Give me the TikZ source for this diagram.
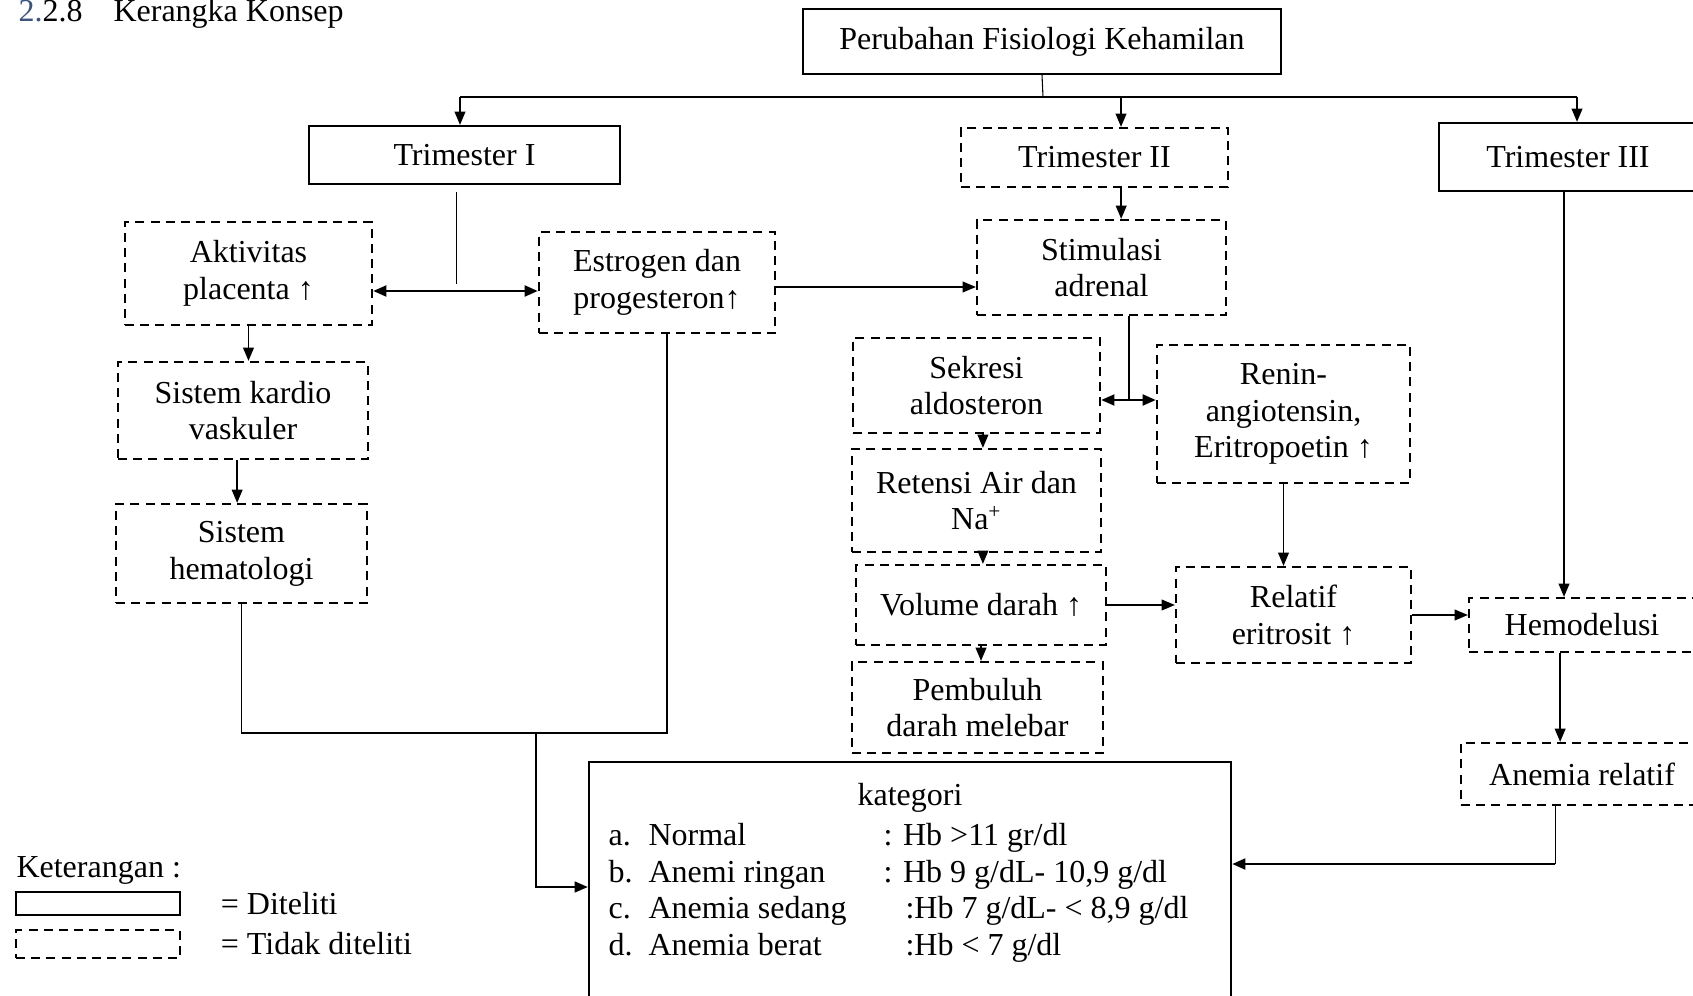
\documentclass[tikz,border=0pt]{standalone}
\usepackage{fontspec}
\setmainfont{Liberation Serif}
\usetikzlibrary{arrows.meta,positioning,calc}

\definecolor{headblue}{RGB}{59,85,125}

\begin{document}
\begin{tikzpicture}[
  x=0.375pt, y=-0.375pt,
  >={Triangle[length=5pt,width=4pt]},
  boxsize/.style 2 args={minimum width=#1*0.375pt, minimum height=#2*0.375pt},
  sbox/.style={draw, line width=0.8pt, align=center, inner sep=2pt,
    font=\fontsize{12}{13.8}\selectfont},
  dbox/.style={sbox, dash pattern=on 3.4pt off 2.3pt},
  lbl/.style={inner sep=0pt, anchor=base west, font=\fontsize{12}{13.8}\selectfont},
  arr/.style={->, line width=0.7pt},
  darr/.style={<->, line width=1.1pt},
  ln/.style={line width=0.4pt}
]
  \useasboundingbox (0,0) rectangle (1693,995);

  % judul
  \node[lbl] (num) at (18,22) {\textcolor{headblue}{2.}2.8};
  \node[lbl] (title) at (113,22) {Kerangka Konsep};

  % kotak
  \node[sbox, boxsize={478}{65}] (top) at (1042,41.5) {Perubahan Fisiologi Kehamilan};
  \node[sbox, boxsize={311}{58}] (tri1) at (464.5,155) {Trimester I};
  \node[dbox, boxsize={267}{59}] (tri2) at (1094.5,157.5) {Trimester II};
  \node[sbox, boxsize={258}{68}] (tri3) at (1568,157) {Trimester III};

  \node[dbox, boxsize={247}{103}] (akt) at (248.5,273.5) {Aktivitas\\placenta ↑};
  \node[dbox, boxsize={236}{101}] (est) at (657,282.5) {Estrogen dan\\progesteron↑};
  \node[dbox, boxsize={249}{95}] (stim) at (1101.5,267.5) {Stimulasi\\adrenal};
  \node[dbox, boxsize={250}{97}] (kard) at (243,410.5) {Sistem kardio\\vaskuler};
  \node[dbox, boxsize={251}{99}] (hema) at (241.5,553.5) {Sistem\\hematologi};

  \node[dbox, boxsize={247}{95}] (sek) at (976.5,385.5) {Sekresi\\aldosteron};
  \node[dbox, boxsize={253}{138}] (renin) at (1283.5,414) {Renin-\\angiotensin,\\Eritropoetin ↑};
  \node[dbox, boxsize={249}{103}] (ret) at (976.5,500.5) {Retensi Air dan\\Na\textsuperscript{+}};
  \node[dbox, boxsize={250}{80}] (vol) at (981,605) {Volume darah ↑};
  \node[dbox, boxsize={251}{91}] (pemb) at (977.5,707.5) {Pembuluh\\darah melebar};
  \node[dbox, boxsize={235}{96}] (rel) at (1293.5,615) {Relatif\\eritrosit ↑};
  \node[dbox, boxsize={226}{54}] (hemo) at (1582,625) {Hemodelusi};
  \node[dbox, boxsize={242}{62}] (anrel) at (1582,774) {Anemia relatif};

  \node[sbox, boxsize={642}{260}] (kat) at (910,892) {};

  % isi kategori
  \node[lbl, anchor=base] (katt) at (910,805) {kategori};
  \node[lbl] (ka) at (608,845) {a.};
  \node[lbl] (kan) at (648,845) {Normal};
  \node[lbl] (kav) at (883,845) {: Hb >11 gr/dl};
  \node[lbl] (kb) at (608,882) {b.};
  \node[lbl] (kbn) at (648,882) {Anemi ringan};
  \node[lbl] (kbv) at (883,882) {: Hb 9 g/dL- 10,9 g/dl};
  \node[lbl] (kc) at (608,918) {c.};
  \node[lbl] (kcn) at (648,918) {Anemia sedang};
  \node[lbl] (kcv) at (905,918) {:Hb 7 g/dL- < 8,9 g/dl};
  \node[lbl] (kd) at (608,955) {d.};
  \node[lbl] (kdn) at (648,955) {Anemia berat};
  \node[lbl] (kdv) at (905,955) {:Hb < 7 g/dl};

  % keterangan
  \node[lbl] (ket) at (16,877) {Keterangan :};
  \node[sbox, boxsize={164}{23}] (lgs) at (98,903.5) {};
  \node[dbox, boxsize={164}{28}] (lgd) at (98,944) {};
  \node[font=\fontsize{12}{13.8}\selectfont, right=11.4pt of lgs] (lgst) {= Diteliti};
  \node[font=\fontsize{12}{13.8}\selectfont, right=11.4pt of lgd] (lgdt) {= Tidak diteliti};

  % titik bantu
  \coordinate (hub) at (1043,97);
  \coordinate (j1) at (460,97);
  \coordinate (j2) at (1121,97);
  \coordinate (j3) at (1577,97);
  \coordinate (ya) at (0,291);
  \coordinate (yb) at (0,287);
  \coordinate (ys) at (0,400);
  \coordinate (yj) at (0,733);
  \coordinate (jl) at (487,733);
  \coordinate (jk) at (536,733);
  \coordinate (yk) at (0,864);
  \coordinate (yk2) at (0,887);

  % panah
  \draw[ln] (top.south) -- (hub);
  \draw[ln] (j1) -- (j3);
  \draw[arr] (j1) -- (j1 |- tri1.north);
  \draw[arr] (j2) -- (j2 |- tri2.north);
  \draw[arr] (j3) -- (j3 |- tri3.north);

  \draw[ln, shorten <=2.6pt, shorten >=2.6pt] ([xshift=-3pt]tri1.south) -- ([xshift=-3pt]tri1.south |- ya);
  \draw[darr] (akt.east |- ya) -- (est.west |- ya);
  \draw[arr] (est.east |- yb) -- (stim.west |- yb);
  \draw[arr] ([xshift=10pt]tri2.south) -- ([xshift=10pt]tri2.south |- stim.north);

  \draw[arr] (akt.south) -- (akt.south |- kard.north);
  \draw[arr] ([xshift=-2.2pt]kard.south) -- ([xshift=-2.2pt]kard.south |- hema.north);

  \draw[ln] ([xshift=10.3pt]stim.south) -- ([xshift=10.3pt]stim.south |- ys);
  \draw[darr] (sek.east |- ys) -- (renin.west |- ys);
  \draw[arr] ([xshift=2.4pt]sek.south) -- ([xshift=2.4pt]sek.south |- ret.north);
  \draw[arr] ([xshift=2.4pt]ret.south) -- ([xshift=2.4pt]ret.south |- vol.north);
  \draw[arr] (vol.south) -- (vol.south |- pemb.north);
  \draw[arr] (renin.south) -- (renin.south |- rel.north);
  \draw[arr] (vol.east) -- (vol.east -| rel.west);
  \draw[arr] (rel.east) -- (rel.east -| hemo.west);
  \draw[arr] ([xshift=-1.5pt]tri3.south) -- ([xshift=-1.5pt]tri3.south |- hemo.north);
  \draw[arr] ([xshift=-8.2pt]hemo.south) -- ([xshift=-8.2pt]hemo.south |- anrel.north);

  \draw[ln] ([xshift=-10pt]anrel.south) -- ([xshift=-10pt]anrel.south |- yk);
  \draw[arr, line width=1.1pt] ([xshift=-10pt]anrel.south |- yk) -- (kat.east |- yk);

  \draw[ln] (hema.south) -- (hema.south |- yj) -- ([xshift=3.75pt]est.south |- yj) -- ([xshift=3.75pt]est.south);
  \draw[arr, line width=0.9pt] (jl) -- (jk) |- (kat.west |- yk2);
\end{tikzpicture}
\end{document}
